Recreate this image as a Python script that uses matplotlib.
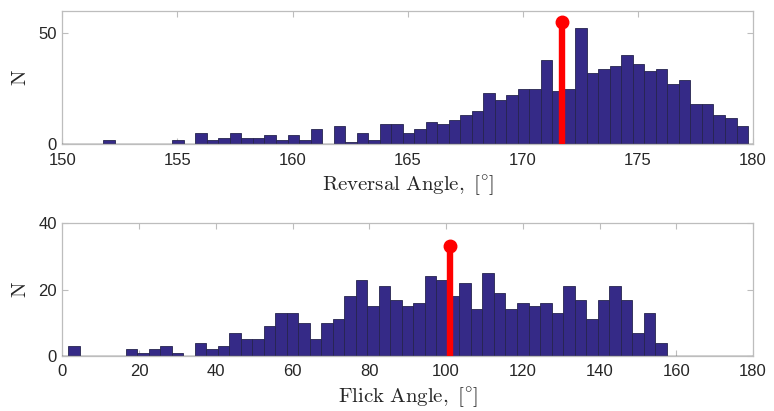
import matplotlib
matplotlib.use("Agg")
import matplotlib.pyplot as plt
import numpy as np

# Reversal angle histogram: 0.5 deg bins starting at 151.78 deg
rev_start = 151.78
rev_width = 0.5
rev_counts = [2, 0, 0, 0, 0, 0, 2, 0, 5, 2, 3, 5, 3, 3, 4, 2, 4, 2, 7, 0,
              8, 1, 5, 2, 9, 9, 5, 7, 10, 9, 11, 13, 15, 23, 20, 22, 25, 25, 38, 24,
              25, 52, 32, 34, 35, 40, 36, 33, 34, 27, 29, 18, 18, 13, 12, 8]
rev_mean = (171.7, 55)

# Flick angle histogram: 3 deg bins starting at 1.48 deg
flick_start = 1.48
flick_width = 3.0
flick_counts = [3, 0, 0, 0, 0, 2, 1, 2, 3, 1, 0, 4, 2, 3, 7, 5, 5, 9, 13, 13,
                10, 5, 10, 11, 18, 23, 15, 21, 17, 15, 16, 24, 23, 18, 22, 14, 25, 19, 14, 16,
                15, 16, 13, 21, 17, 11, 17, 21, 17, 7, 13, 4]
flick_mean = (101.1, 33)

bar_color = "#352a87"
edge_color = "#26244f"
spine_gray = "#bdbdbd"
text_gray = "#262626"

plt.rcParams['font.family'] = ['Liberation Sans', 'DejaVu Sans']
plt.rcParams['mathtext.fontset'] = 'cm'

fig = plt.figure(figsize=(7.74, 4.11), dpi=100)
ax1 = fig.add_axes([0.0805, 0.649, 0.8925, 0.325])
ax2 = fig.add_axes([0.0805, 0.134, 0.8925, 0.323])


def hist_panel(ax, start, width, counts, mean, xlim, ylim, xticks, yticks, xlabel):
    edges = start + width * np.arange(len(counts))
    ax.bar(edges, counts, width=width, align='edge', color=bar_color,
           edgecolor=edge_color, linewidth=0.6, zorder=2)
    ax.axhline(0, color="#3a3a3a", lw=1.0, zorder=3)
    mx, my = mean
    ax.plot([mx, mx], [0, my], color='red', lw=4.6, solid_capstyle='butt', zorder=4)
    ax.plot([mx], [my], 'o', color='red', ms=9, zorder=5)
    ax.set_xlim(*xlim)
    ax.set_ylim(*ylim)
    ax.set_xticks(xticks)
    ax.set_yticks(yticks)
    ax.tick_params(direction='in', top=True, right=True, length=4, width=0.8,
                   color=spine_gray, labelsize=12, labelcolor=text_gray)
    ax.tick_params(axis='x', pad=6)
    ax.tick_params(axis='y', pad=4)
    for s in ax.spines.values():
        s.set_color(spine_gray)
        s.set_linewidth(0.9)
    ax.set_xlabel(xlabel, fontsize=15, color=text_gray, labelpad=4)
    ax.set_ylabel(r'$\mathrm{N}$', fontsize=15, color=text_gray, labelpad=6)


hist_panel(ax1, rev_start, rev_width, rev_counts, rev_mean,
           (150, 180), (0, 60), [150, 155, 160, 165, 170, 175, 180], [0, 50],
           r'$\mathrm{Reversal\ Angle,\ [^{\circ}]}$')
hist_panel(ax2, flick_start, flick_width, flick_counts, flick_mean,
           (0, 180), (0, 40), list(range(0, 181, 20)), [0, 20, 40],
           r'$\mathrm{Flick\ Angle,\ [^{\circ}]}$')

fig.savefig("out.png", dpi=100)
